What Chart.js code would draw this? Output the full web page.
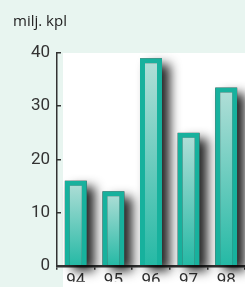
<!DOCTYPE html>
<html>
<head>
<meta charset="utf-8">
<script src="https://cdn.jsdelivr.net/npm/chart.js@4.4.1/dist/chart.umd.min.js"></script>
<style>
html, body { margin: 0; padding: 0; background: #e8f5f0; }
#wrap { position: relative; width: 245px; height: 287px; }
#unit { position: absolute; left: 13px; top: 10px; font: 15px "Open Sans", sans-serif; color: #222; }
</style>
</head>
<body>
<div id="wrap">
	<canvas id="chart" width="245" height="287"></canvas>
	<div id="unit"></div>
</div>
<script>
// values
const years = ["94", "95", "96", "97", "98"];
const amounts = [16, 14, 39, 25, 33.5];
const yMin = 0;
const yMax = 40;
const yStep = 10;
const unitLabel = "milj. kpl";

document.getElementById("unit").textContent = unitLabel;

const panelPlugin = {
	id: "panel",
	beforeDraw(chart) {
		const c = chart.ctx;
		const a = chart.chartArea;
		c.save();
		c.fillStyle = "#e8f5f0";
		c.fillRect(0, 0, chart.width, chart.height);
		c.fillStyle = "#ffffff";
		c.fillRect(a.left + 6, a.top, chart.width - a.left - 6, chart.height - a.top);
		c.restore();
	}
};

const shadowPlugin = {
	id: "barShadow",
	beforeDatasetsDraw(chart) {
		const c = chart.ctx;
		const meta = chart.getDatasetMeta(0);
		c.save();
		c.shadowColor = "rgba(0,0,0,0.85)";
		c.shadowBlur = 11;
		c.shadowOffsetX = 8;
		c.shadowOffsetY = 6;
		c.fillStyle = "#444";
		meta.data.forEach(bar => {
			const p = bar.getProps(["x", "y", "base", "width"], true);
			c.fillRect(p.x - p.width / 2, p.y, p.width, p.base - p.y);
		});
		c.restore();
	}
};

function barFill(ctx) {
	const chart = ctx.chart;
	const y = chart.scales.y;
	if (!chart.chartArea || !y) return "#7fcfc2";
	const top = y.getPixelForValue(ctx.raw);
	const bottom = y.getPixelForValue(0);
	const g = chart.ctx.createLinearGradient(0, top, 0, bottom);
	g.addColorStop(0, "#b3dfd8");
	g.addColorStop(1, "#25b9a5");
	return g;
}

new Chart(document.getElementById("chart"), {
	type: "bar",
	data: {
		labels: years,
		datasets: [{
			data: amounts,
			backgroundColor: barFill,
			borderColor: "#17b19d",
			borderWidth: 5,
			borderSkipped: "bottom",
			barPercentage: 0.585,
			categoryPercentage: 1
		}]
	},
	options: {
		responsive: false,
		animation: false,
		devicePixelRatio: 1,
		layout: { padding: { top: 53, right: 0, left: 0, bottom: 0 } },
		plugins: {
			legend: { display: false },
			tooltip: { enabled: false }
		},
		scales: {
			x: {
				z: 1,
				afterFit(s) { s.height = 16; },
				border: { color: "#333", width: 2.5 },
				grid: { drawOnChartArea: false, tickLength: 4, color: "#333", lineWidth: 1.5 },
				ticks: { color: "#333", padding: 1, font: { family: "Roboto", size: 17 } }
			},
			y: {
				z: 1,
				min: yMin,
				max: yMax,
				afterFit(s) { s.width = 57; },
				border: { color: "#333", width: 1.5 },
				grid: { drawOnChartArea: false, tickLength: -4, color: "#333", lineWidth: 1.5 },
				ticks: { stepSize: yStep, color: "#333", padding: 11, font: { family: "Roboto", size: 17 } }
			}
		}
	},
	plugins: [panelPlugin, shadowPlugin]
});
</script>
</body>
</html>
